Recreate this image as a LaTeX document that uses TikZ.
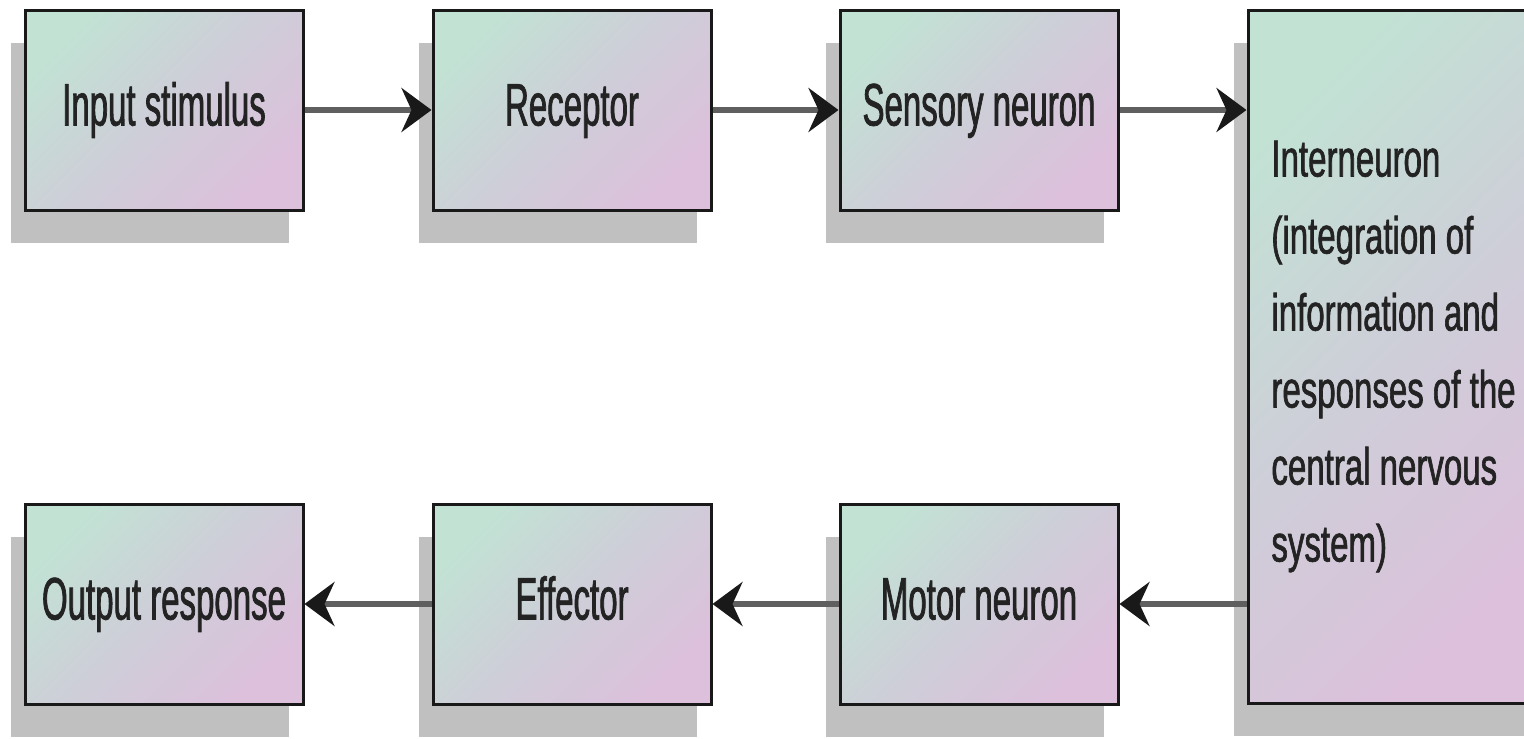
\documentclass[tikz,border=0pt]{standalone}
\usepackage{fontspec}
\setmainfont{Liberation Sans}
\newfontfamily\condA[FakeStretch=0.55,FakeBold=1.2]{Liberation Sans}
\newfontfamily\condB[FakeStretch=0.635,FakeBold=1.2]{Liberation Sans}
\usetikzlibrary{arrows.meta,shadows}
\definecolor{mint}{RGB}{194,226,212}
\definecolor{midc}{RGB}{206,206,216}
\definecolor{pinkc}{RGB}{220,192,220}
\definecolor{shadowc}{RGB}{192,192,192}
\definecolor{textc}{RGB}{35,35,35}
\definecolor{linec}{RGB}{95,95,95}
\tikzset{
  box/.style={draw=black!90, line width=3pt, inner sep=0pt,
    top color=mint, bottom color=pinkc, middle color=midc, shading angle=45,
    drop shadow={shadow xshift=-14pt, shadow yshift=-33pt, fill=shadowc, opacity=1},
    text=textc},
  stepbox/.style={box, minimum width=278pt, minimum height=200pt,
    font=\condA\fontsize{60}{72}\selectfont, text height=44pt, text depth=13pt},
  arr/.style={draw=linec, line width=6pt,
    -{Stealth[length=30pt, width=44pt, inset=10pt, color=black!90]}}
}
\begin{document}
\begin{tikzpicture}[x=1pt, y=-1pt]
\useasboundingbox (0,0) rectangle (1524,739);
\clip (0,0) rectangle (1524,739);
\fill[white] (0,0) rectangle (1524,739);
\node[stepbox] (input) at (164,110) {Input stimulus};
\node[stepbox] (receptor) at (572,110) {Receptor};
\node[stepbox] (sensory) at (979,110) {Sensory neuron};
\node[box, minimum width=291pt, minimum height=693pt, align=left,
  font=\condB\fontsize{52}{77}\selectfont] (inter) at (1393.5,356.5)
  {Interneuron\\(integration of\\information and\\responses of the\\central nervous\\system)};
\node[stepbox] (output) at (164,604) {Output response};
\node[stepbox] (effector) at (572,604) {Effector};
\node[stepbox] (motor) at (979,604) {Motor neuron};
\draw[arr] (input.east) -- (receptor.west);
\draw[arr] (receptor.east) -- (sensory.west);
\draw[arr] (sensory.east) -- (sensory.east -| inter.west);
\draw[arr] (inter.west |- motor.east) -- (motor.east);
\draw[arr] (motor.west) -- (effector.east);
\draw[arr] (effector.west) -- (output.east);
\end{tikzpicture}
\end{document}
